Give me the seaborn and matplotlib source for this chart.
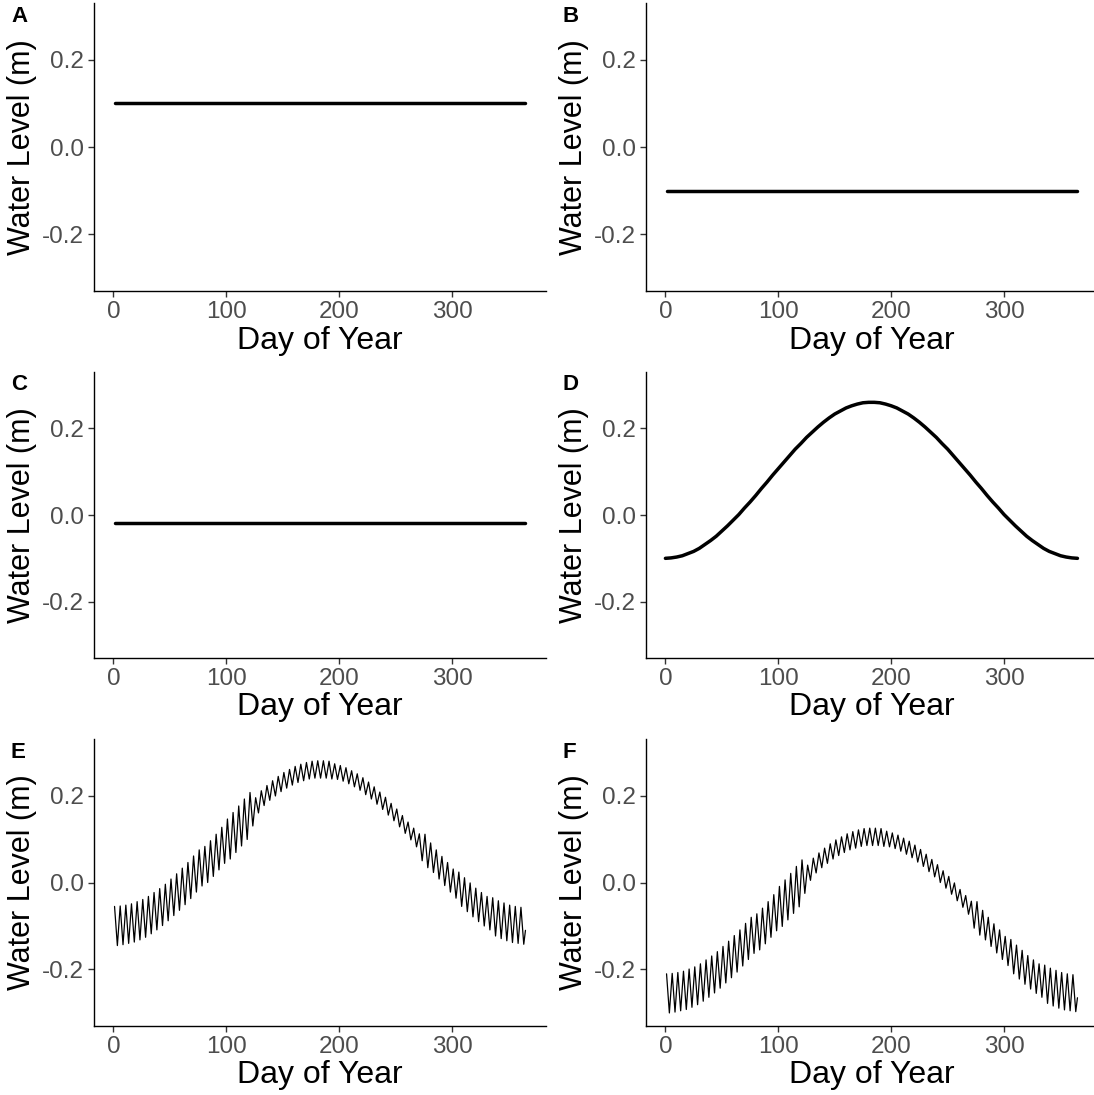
import numpy as np
import pandas as pd
import matplotlib
matplotlib.use("Agg")
import matplotlib.pyplot as plt
import seaborn as sns

# Constant water levels (panels A-C)
const_days = [1, 365]
level_a = [0.10, 0.10]
level_b = [-0.10, -0.10]
level_c = [-0.018, -0.018]

# Seasonal curve (panel D), every 5 days
days_d = list(range(0, 366, 5))
level_d = [-0.100, -0.099, -0.097, -0.094, -0.089, -0.084, -0.077, -0.068, -0.059, -0.049,
           -0.037, -0.025, -0.012, 0.001, 0.016, 0.030, 0.045, 0.061, 0.076, 0.092,
           0.107, 0.122, 0.137, 0.152, 0.165, 0.179, 0.191, 0.203, 0.214, 0.224,
           0.233, 0.240, 0.247, 0.252, 0.256, 0.259, 0.260, 0.260, 0.259, 0.256,
           0.252, 0.247, 0.240, 0.233, 0.224, 0.214, 0.203, 0.191, 0.179, 0.165,
           0.152, 0.137, 0.122, 0.107, 0.092, 0.076, 0.061, 0.045, 0.030, 0.016,
           0.001, -0.012, -0.025, -0.037, -0.049, -0.059, -0.068, -0.077, -0.084, -0.089,
           -0.094, -0.097, -0.099, -0.100]

# Seasonal + tidal (panels E, F): peaks and troughs
peak_days = list(range(1, 365, 5))
trough_days = [d + 2.5 for d in peak_days]
end_day = 365

e_peaks = [-0.055, -0.054, -0.052, -0.049, -0.044, -0.039, -0.032, -0.023, -0.014, -0.004,
           0.008, 0.020, 0.033, 0.046, 0.061, 0.075, 0.083, 0.096, 0.111, 0.127,
           0.146, 0.161, 0.176, 0.192, 0.207, 0.195, 0.211, 0.223, 0.234, 0.244,
           0.253, 0.260, 0.267, 0.272, 0.276, 0.279, 0.280, 0.280, 0.279, 0.273,
           0.269, 0.264, 0.257, 0.250, 0.241, 0.231, 0.220, 0.208, 0.196, 0.182,
           0.169, 0.154, 0.139, 0.125, 0.112, 0.111, 0.091, 0.075, 0.060, 0.046,
           0.031, 0.024, 0.011, -0.001, -0.013, -0.023, -0.032, -0.035, -0.042, -0.047,
           -0.052, -0.055, -0.057]
e_troughs = [-0.145, -0.143, -0.140, -0.137, -0.132, -0.126, -0.118, -0.109, -0.099, -0.088,
             -0.076, -0.064, -0.051, -0.037, -0.022, -0.008, 0.000, 0.014, 0.029, 0.044,
             0.054, 0.069, 0.084, 0.099, 0.130, 0.160, 0.177, 0.189, 0.199, 0.209,
             0.217, 0.224, 0.230, 0.234, 0.238, 0.240, 0.240, 0.240, 0.238, 0.237,
             0.233, 0.227, 0.220, 0.212, 0.202, 0.192, 0.180, 0.168, 0.155, 0.142,
             0.128, 0.113, 0.098, 0.082, 0.050, 0.034, 0.023, 0.008, -0.007, -0.022,
             -0.036, -0.055, -0.067, -0.079, -0.090, -0.100, -0.109, -0.123, -0.129, -0.134,
             -0.138, -0.140, -0.142]
e_end = -0.11

f_peaks = [-0.210, -0.209, -0.207, -0.204, -0.199, -0.194, -0.187, -0.178, -0.169, -0.159,
           -0.147, -0.135, -0.122, -0.109, -0.094, -0.080, -0.072, -0.059, -0.044, -0.028,
           -0.009, 0.006, 0.021, 0.037, 0.052, 0.040, 0.056, 0.068, 0.079, 0.089,
           0.098, 0.105, 0.112, 0.117, 0.121, 0.124, 0.125, 0.125, 0.124, 0.118,
           0.114, 0.109, 0.102, 0.095, 0.086, 0.076, 0.065, 0.053, 0.041, 0.027,
           0.014, -0.001, -0.016, -0.030, -0.043, -0.044, -0.064, -0.080, -0.095, -0.109,
           -0.124, -0.131, -0.144, -0.156, -0.168, -0.178, -0.187, -0.190, -0.197, -0.202,
           -0.207, -0.210, -0.212]
f_troughs = [-0.300, -0.298, -0.295, -0.292, -0.287, -0.281, -0.273, -0.264, -0.254, -0.243,
             -0.231, -0.219, -0.206, -0.192, -0.177, -0.163, -0.155, -0.141, -0.126, -0.111,
             -0.101, -0.086, -0.071, -0.056, -0.025, 0.005, 0.022, 0.034, 0.044, 0.054,
             0.062, 0.069, 0.075, 0.079, 0.083, 0.085, 0.085, 0.085, 0.083, 0.082,
             0.078, 0.072, 0.065, 0.057, 0.047, 0.037, 0.025, 0.013, 0.000, -0.013,
             -0.027, -0.042, -0.057, -0.073, -0.105, -0.121, -0.132, -0.147, -0.162, -0.177,
             -0.191, -0.210, -0.222, -0.234, -0.245, -0.255, -0.264, -0.278, -0.284, -0.289,
             -0.293, -0.295, -0.297]
f_end = -0.265

x_ticks = [0, 100, 200, 300]
y_ticks = [-0.2, 0.0, 0.2]
y_tick_labels = ["-0.2", "0.0", "0.2"]
panel_labels = ["A", "B", "C", "D", "E", "F"]


def zigzag(peaks, troughs, end_val):
    days, vals = [], []
    for pd_, p, td, t in zip(peak_days, peaks, trough_days, troughs):
        days += [pd_, td]
        vals += [p, t]
    days.append(end_day)
    vals.append(end_val)
    return pd.DataFrame({"day": days, "level": vals})


frames = [
    (pd.DataFrame({"day": const_days, "level": level_a}), 2.5),
    (pd.DataFrame({"day": const_days, "level": level_b}), 2.5),
    (pd.DataFrame({"day": const_days, "level": level_c}), 2.5),
    (pd.DataFrame({"day": days_d, "level": level_d}), 2.5),
    (zigzag(e_peaks, e_troughs, e_end), 0.9),
    (zigzag(f_peaks, f_troughs, f_end), 0.9),
]

sns.set_style("ticks")
plt.rcParams["font.family"] = ["Liberation Sans", "DejaVu Sans"]
plt.rcParams["axes.unicode_minus"] = False

W, H = 1094, 1095
fig = plt.figure(figsize=(W / 100, H / 100), dpi=100)

col_left = [94, 646]
row_span = [(3, 291), (372, 658), (739, 1026)]
ax_w = 452

for i, (df, lw) in enumerate(frames):
    r, c = divmod(i, 2)
    top, bot = row_span[r]
    ax = fig.add_axes([col_left[c] / W, 1 - bot / H, ax_w / W, (bot - top) / H])
    sns.lineplot(data=df, x="day", y="level", ax=ax, color="black",
                 linewidth=lw, estimator=None, sort=False)
    ax.set_xlim(-17.2, 383.2)
    ax.set_ylim(-0.33, 0.33)
    ax.set_xticks(x_ticks)
    ax.set_yticks(y_ticks)
    ax.set_yticklabels(y_tick_labels)
    ax.tick_params(labelsize=17.5, colors="#4D4D4D", length=4, width=1, pad=3)
    ax.tick_params(axis="both", color="#333333")
    ax.set_xlabel("Day of Year", fontsize=23, color="black", labelpad=2)
    ax.set_ylabel("Water Level (m)", fontsize=22, color="black", labelpad=4)
    for s in ["left", "bottom"]:
        ax.spines[s].set_color("black")
        ax.spines[s].set_linewidth(1)
    sns.despine(ax=ax)
    fig.text((col_left[c] - 83) / W, 1 - (top + 13) / H, panel_labels[i],
             fontsize=16, fontweight="bold", ha="left", va="center", color="black")

fig.savefig("out.png", dpi=100, facecolor="white")
